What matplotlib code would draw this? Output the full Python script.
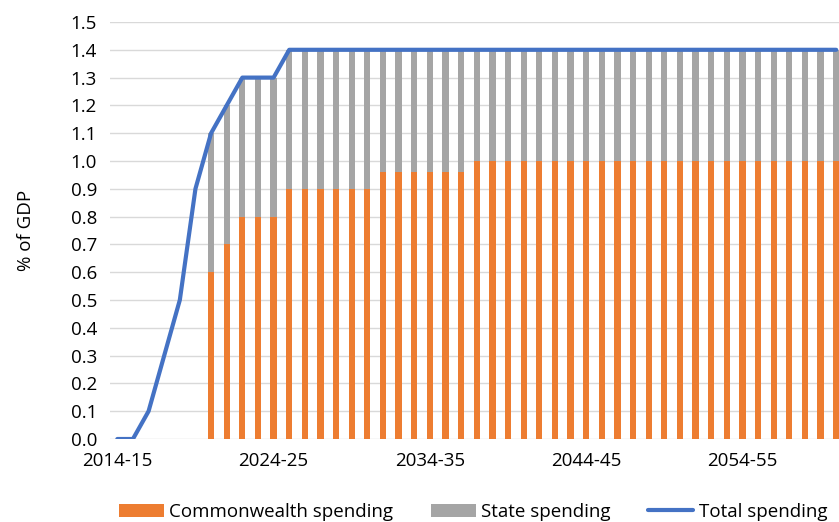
import numpy as np
import matplotlib
matplotlib.use("Agg")
import matplotlib.pyplot as plt

plt.rcParams['font.family'] = ['Open Sans', 'DejaVu Sans']

# financial years 2014-15 .. 2060-61
years = [f"{y}-{str(y + 1)[-2:]}" for y in range(2014, 2061)]

total = [0.0, 0.0, 0.1, 0.3, 0.5, 0.9, 1.1, 1.2, 1.3, 1.3, 1.3] + [1.4] * 36
commonwealth = [np.nan] * 6 + [0.6, 0.7, 0.8, 0.8, 0.8] + [0.9] * 6 + [0.96] * 6 + [1.0] * 24
state = [np.nan] * 6 + [0.5, 0.5, 0.5, 0.5, 0.5] + [0.5] * 6 + [0.44] * 6 + [0.4] * 24

tick_labels = ["2014-15", "2024-25", "2034-35", "2044-45", "2054-55"]

fig = plt.figure(figsize=(8.39, 5.22), dpi=100)
ax = fig.add_axes([109.5 / 839, 83 / 522, 1 - 109.5 / 839, 417 / 522])

x = np.arange(len(years))
b1 = ax.bar(x, commonwealth, width=0.4, color="#ED7D31", zorder=2)
b2 = ax.bar(x, state, width=0.4, bottom=commonwealth, color="#A5A5A5", zorder=2)
ln, = ax.plot(x, total, color="#4472C4", lw=3, zorder=3, solid_capstyle="round")

ax.set_ylim(0, 1.5)
ax.set_xlim(-0.5, 46.18)
ax.set_yticks(np.arange(0, 1.51, 0.1))
ax.set_yticklabels([f"{v:.1f}" for v in np.arange(0, 1.51, 0.1)])
ax.set_xticks([years.index(t) for t in tick_labels])
ax.set_xticklabels(tick_labels)
ax.tick_params(axis="both", length=0, labelsize=13.5, colors="black")
ax.tick_params(axis="x", pad=9)
ax.tick_params(axis="y", pad=9)
ax.grid(axis="y", color="#D9D9D9", lw=1, zorder=0)
for s in ax.spines.values():
    s.set_visible(False)

ax.set_ylabel("% of GDP", fontsize=13.5, labelpad=26)

fig.legend([b1, b2, ln], ["Commonwealth spending", "State spending", "Total spending"],
           loc="lower center", bbox_to_anchor=(473 / 839, -0.03), ncol=3, frameon=False,
           fontsize=13.5, handlelength=2.4, handleheight=0.7, columnspacing=2.0, handletextpad=0.3)

fig.savefig("out.png", dpi=100)
